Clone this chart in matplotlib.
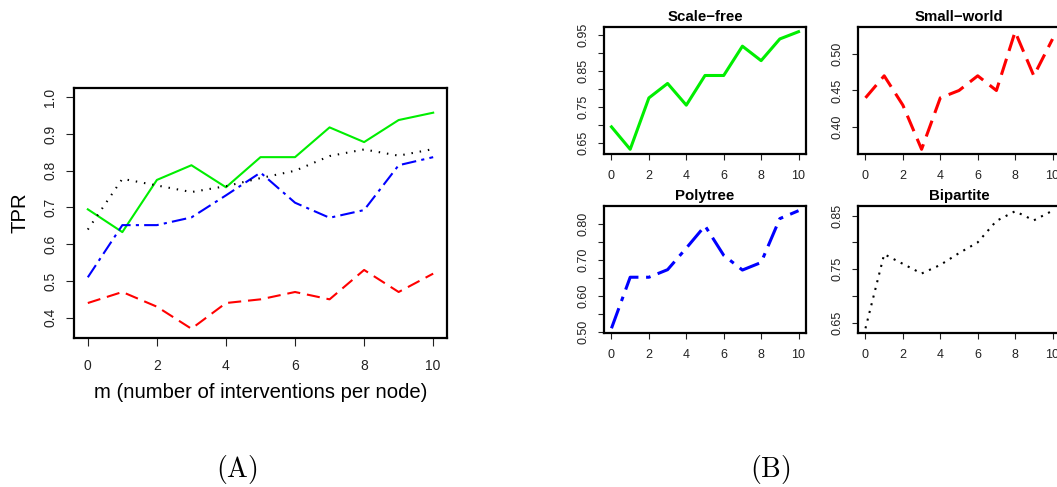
import numpy as np
import matplotlib.pyplot as plt

plt.rcParams['font.family'] = ['Liberation Sans', 'DejaVu Sans']
plt.rcParams['mathtext.fontset'] = 'cm'

m = np.arange(11)
scale_free = [0.695, 0.633, 0.775, 0.815, 0.755, 0.837, 0.837, 0.918, 0.878, 0.938, 0.958]
small_world = [0.44, 0.47, 0.43, 0.37, 0.44, 0.45, 0.47, 0.45, 0.53, 0.47, 0.52]
polytree = [0.51, 0.652, 0.652, 0.673, 0.733, 0.795, 0.713, 0.672, 0.693, 0.815, 0.837]
bipartite = [0.64, 0.778, 0.76, 0.742, 0.758, 0.78, 0.80, 0.84, 0.858, 0.841, 0.859]

W, H = 1057, 487
fig = plt.figure(figsize=(W / 100, H / 100), dpi=100)


def box(x0, x1, ytop, ybot):
    # pixel box -> figure fraction
    return [x0 / W, (H - ybot) / H, (x1 - x0) / W, (ybot - ytop) / H]


def r_style(ax, data, yticks, ylabels, fs, ticklen, xpad):
    lo, hi = min(data), max(data)
    pad = 0.04 * (hi - lo)
    ax.set_ylim(lo - pad, hi + pad)
    ax.set_xlim(-0.4, 10.4)
    ax.set_xticks([0, 2, 4, 6, 8, 10])
    ax.set_yticks(yticks)
    ax.set_yticklabels(ylabels)
    for s in ax.spines.values():
        s.set_linewidth(1.6)
    ax.tick_params(direction='out', length=ticklen, width=0.8, labelsize=fs,
                   pad=6, colors='#222222', labelcolor='#222222')
    ax.tick_params(axis='x', pad=xpad)
    ax.tick_params(axis='y', labelrotation=90)
    for lab in ax.get_yticklabels():
        lab.set_va('center')


# (A) all four on one plot
axA = fig.add_axes(box(74, 447, 88, 338))
axA.plot(m, scale_free, color='#00ee00', lw=1.5)
axA.plot(m, small_world, color='#ff0000', lw=1.5, linestyle=(0, (6.3, 3.3)))
axA.plot(m, polytree, color='#0000ff', lw=1.5, linestyle=(0, (7, 2.5, 1.5, 2.5)))
axA.plot(m, bipartite, color='black', lw=1.5, linestyle=(0, (0.7, 3.3)))
r_style(axA, [0.37, 1.0], [0.4, 0.5, 0.6, 0.7, 0.8, 0.9, 1.0],
        ['0.4', '0.5', '0.6', '0.7', '0.8', '0.9', '1.0'], 10, 6, 9)
axA.set_xlabel('m (number of interventions per node)', fontsize=14.6, labelpad=7)
axA.set_ylabel('TPR', fontsize=14.6, labelpad=10)

# (B) separate panels
panels = [
    ('Scale\u2212free', scale_free, box(604, 806, 27, 154), '#00ee00', '-', 2.2,
     [0.65, 0.70, 0.75, 0.80, 0.85, 0.90, 0.95], ['0.65', '', '0.75', '', '0.85', '', '0.95']),
    ('Small\u2212world', small_world, box(858, 1060, 27, 154), '#ff0000', (0, (5.5, 2.7)), 2.2,
     [0.40, 0.45, 0.50], ['0.40', '0.45', '0.50']),
    ('Polytree', polytree, box(604, 806, 206, 333), '#0000ff', (0, (7, 2.5, 1.5, 2.5)), 2.2,
     [0.50, 0.55, 0.60, 0.65, 0.70, 0.75, 0.80], ['0.50', '', '0.60', '', '0.70', '', '0.80']),
    ('Bipartite', bipartite, box(858, 1060, 206, 333), 'black', (0, (1, 2.8)), 1.5,
     [0.65, 0.70, 0.75, 0.80, 0.85], ['0.65', '', '0.75', '', '0.85']),
]
for title, vals, rect, col, ls, lw, yt, yl in panels:
    ax = fig.add_axes(rect)
    ax.plot(m, vals, color=col, lw=lw, linestyle=ls)
    r_style(ax, vals, yt, yl, 9, 4.5, 7)
    ax.set_title(title, fontsize=10.8, fontweight='bold', pad=4)

fig.text(237 / W, 1 - 469 / H, r'$\mathrm{(A)}$', fontsize=20, ha='center', va='center')
fig.text(770 / W, 1 - 469 / H, r'$\mathrm{(B)}$', fontsize=20, ha='center', va='center')

fig.savefig('out.png', dpi=100)
